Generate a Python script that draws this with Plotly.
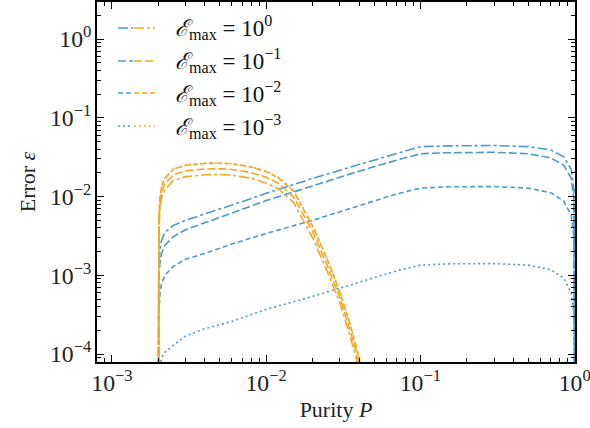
import plotly.graph_objects as go

# ---------------- data ----------------
emax_labels = ["10<sup>0</sup>", "10<sup>−1</sup>", "10<sup>−2</sup>", "10<sup>−3</sup>"]

purity_blue = [0.002, 0.00201, 0.00205, 0.0021, 0.0022, 0.0025, 0.003, 0.004, 0.006,
               0.01, 0.02, 0.04, 0.07, 0.1, 0.15, 0.3, 0.5, 0.7, 0.85, 0.95, 0.99, 1.0]
blue_e0 = [1e-5, 0.0012, 0.0022, 0.0028, 0.0035, 0.0043, 0.0050, 0.0060, 0.0078,
           0.0110, 0.0170, 0.0255, 0.0355, 0.0430, 0.0440, 0.0445, 0.0430, 0.0390, 0.0320, 0.0220, 0.0120, 1e-5]
blue_e1 = [1e-5, 0.0009, 0.0015, 0.0019, 0.0024, 0.0031, 0.0038, 0.0047, 0.0062,
           0.0089, 0.0137, 0.0210, 0.0290, 0.0350, 0.0360, 0.0365, 0.0350, 0.0310, 0.0250, 0.0170, 0.0090, 1e-5]
blue_e2 = [1e-5, 0.0003, 0.0006, 0.0008, 0.0010, 0.0013, 0.0016, 0.0019, 0.0025,
           0.0034, 0.0050, 0.0077, 0.0108, 0.0128, 0.0133, 0.0134, 0.0128, 0.0112, 0.0087, 0.0058, 0.0030, 1e-5]
blue_e3 = [1e-6, 0.00003, 0.00007, 0.00009, 0.000105, 0.00013, 0.00017, 0.00021, 0.00026,
           0.00037, 0.00054, 0.00082, 0.00114, 0.00135, 0.00140, 0.00141, 0.00135, 0.00118, 0.00092, 0.00060, 0.00030, 1e-6]

purity_orange = [0.002, 0.002005, 0.00202, 0.00205, 0.0021, 0.0022, 0.0025, 0.003, 0.004, 0.005,
                 0.006, 0.008, 0.01, 0.012, 0.015, 0.02, 0.025, 0.03, 0.035, 0.04, 0.045]
orange_e0 = [1e-5, 0.0014, 0.0043, 0.0072, 0.0097, 0.0122, 0.0160, 0.0179, 0.0189, 0.0191,
             0.0187, 0.0171, 0.0149, 0.0125, 0.0085, 0.0030, 0.0011, 0.00045, 0.00017, 0.000065, 0.000022]
orange_e1 = [1e-5, 0.0017, 0.0051, 0.0085, 0.0115, 0.0145, 0.0189, 0.0212, 0.0224, 0.0225,
             0.0221, 0.0201, 0.0176, 0.0147, 0.0100, 0.0036, 0.0013, 0.00053, 0.00020, 0.000077, 0.000026]
orange_e2 = [1e-5, 0.0020, 0.0060, 0.0100, 0.0135, 0.0170, 0.0222, 0.0249, 0.0263, 0.0265,
             0.0260, 0.0237, 0.0207, 0.0173, 0.0118, 0.0042, 0.00155, 0.00062, 0.00024, 0.00009, 0.00003]
orange_e3 = [1e-5, 0.0020, 0.0061, 0.0101, 0.0136, 0.0172, 0.0224, 0.0251, 0.0265, 0.0267,
             0.0262, 0.0239, 0.0209, 0.0175, 0.0120, 0.0043, 0.00158, 0.00063, 0.00024, 0.00009, 0.00003]

# tick label for 10^0 (others come from the log axis power format)
tick_alias = {"1": "10<sup>0</sup>"}

# ---------------- style ----------------
BLUE = "#4A9ACB"
ORANGE = "#F6A623"
dashes = ["10px,3px,3px,3px", "8px,3px", "5px,3px", "2px,3px"]
FONT = "Liberation Serif, DejaVu Serif, serif"

fig = go.Figure()
blues = [blue_e0, blue_e1, blue_e2, blue_e3]
oranges = [orange_e0, orange_e1, orange_e2, orange_e3]
for i in range(4):
    fig.add_trace(go.Scatter(x=purity_blue, y=blues[i], mode="lines",
                             line=dict(color=BLUE, width=1.6, dash=dashes[i]),
                             showlegend=False, hoverinfo="skip"))
for i in range(4):
    fig.add_trace(go.Scatter(x=purity_orange, y=oranges[i], mode="lines",
                             line=dict(color=ORANGE, width=1.6, dash=dashes[i]),
                             showlegend=False, hoverinfo="skip"))

# plot area in pixels
L, R, T, B = 97, 575, 2, 362
W, H = 590, 428

def px(x):
    return (x - L) / (R - L)

def py(y):
    return (B - y) / (B - T)

# manual legend (two-colour samples)
rows_y = [28, 61, 93, 126]
shapes = []
annotations = []
for i in range(4):
    yy = py(rows_y[i])
    shapes.append(dict(type="line", xref="paper", yref="paper", x0=px(118), x1=px(133),
                       y0=yy, y1=yy, line=dict(color=BLUE, width=1.6, dash=dashes[i])))
    shapes.append(dict(type="line", xref="paper", yref="paper", x0=px(134), x1=px(155),
                       y0=yy, y1=yy, line=dict(color=ORANGE, width=1.6, dash=dashes[i])))
    annotations.append(dict(xref="paper", yref="paper", x=px(173), y=yy, xanchor="left",
                            yanchor="middle", showarrow=False,
                            text="<i>ℰ</i><sub>max</sub> = " + emax_labels[i],
                            font=dict(family=FONT, size=23, color="#111")))

axis_common = dict(type="log", showgrid=False, zeroline=False, showline=True,
                   linecolor="black", linewidth=1.6, mirror="allticks",
                   ticks="inside", ticklen=7, tickwidth=1.3, tickcolor="black",
                   dtick=1, exponentformat="power", labelalias=tick_alias,
                   automargin=False, ticklabeloverflow="allow",
                   tickfont=dict(family=FONT, size=19, color="#222"),
                   minor=dict(ticks="inside", ticklen=4, tickwidth=1, tickcolor="black",
                              dtick="D1", showgrid=False))

fig.update_layout(
    width=W, height=H,
    margin=dict(l=L, r=W - R, t=T, b=H - B),
    paper_bgcolor="white", plot_bgcolor="white",
    shapes=shapes, annotations=annotations,
    xaxis=dict(axis_common, range=[-3.097, 0.002],
               title=dict(text="Purity <i>P</i>", font=dict(family=FONT, size=22, color="#222"),
                          standoff=6)),
    yaxis=dict(axis_common, range=[-4.1, 0.47],
               title=dict(text="Error <i>ε</i>", font=dict(family=FONT, size=22, color="#222"),
                          standoff=8)),
)

fig.write_html("out.html", post_script="document.body.style.margin='0';",
               config={"displayModeBar": False})
